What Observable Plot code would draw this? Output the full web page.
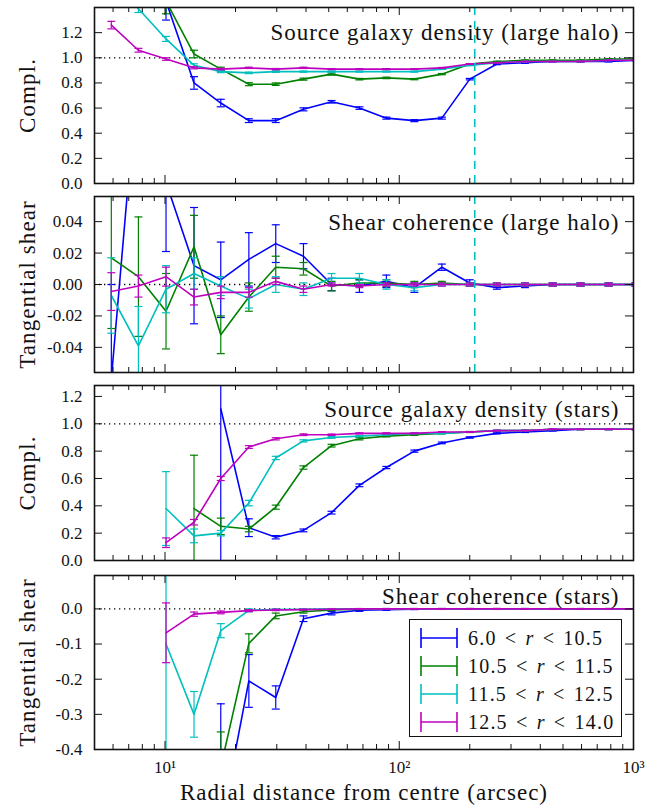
<!DOCTYPE html>
<html><head><meta charset="utf-8">
<script src="https://cdn.jsdelivr.net/npm/d3@7"></script>
<script src="https://cdn.jsdelivr.net/npm/@observablehq/plot@0.6"></script>
<style>
body{margin:0;background:#fff;}
#chart{position:relative;width:658px;height:811px;font-family:"Liberation Serif","DejaVu Serif",serif;color:#111;}
#chart svg{display:block;overflow:visible;}
#legend{position:absolute;left:409px;top:619px;width:211px;height:116px;border:1.6px solid #111;background:#fff;}
#legend .row{position:absolute;left:0;height:28px;display:flex;align-items:center;}
#legend .row svg{margin-left:10px;overflow:visible;}
#legend .row span{margin-left:10px;font-size:20px;letter-spacing:1.2px;word-spacing:2px;white-space:nowrap;}
</style></head><body><div id="chart"></div>
<script>
// ---- shared data ----
const radius = [5.9, 7.7, 10.1, 13.3, 17.3, 22.8, 29.7, 39.0, 51.4, 67.6, 88.1, 116, 152, 200, 261, 344, 452, 594, 783, 1021];
const seriesLabels = ["6.0 < r < 10.5", "10.5 < r < 11.5", "11.5 < r < 12.5", "12.5 < r < 14.0"];
const seriesColors = ["#0000ff", "#008000", "#00bfbf", "#bf00bf"];
const xMajor = [10, 100, 1000];
const xMajorLabels = ["10¹", "10²", "10³"];
const xMinor = [6, 7, 8, 9, 20, 30, 40, 50, 60, 70, 80, 90, 200, 300, 400, 500, 600, 700, 800, 900];
const xTitle = "Radial distance from centre (arcsec)";
const haloRadius = 210;

// ---- panel 1: source galaxy density (large halo) ----
const densHaloB = [1.9, 1.7, 1.45, 0.80, 0.64, 0.50, 0.50, 0.59, 0.65, 0.60, 0.52, 0.50, 0.52, 0.83, 0.95, 0.96, 0.97, 0.97, 0.97, 0.98];
const densHaloBErr = [0.2, 0.2, 0.15, 0.05, 0.03, 0.015, 0.015, 0.012, 0.01, 0.01, 0.008, 0.008, 0.008, 0.006, 0.005, 0.004, 0.003, 0.003, 0.003, 0.003];
const densHaloG = [1.9, 1.8, 1.45, 1.03, 0.91, 0.79, 0.79, 0.83, 0.87, 0.83, 0.84, 0.83, 0.87, 0.95, 0.97, 0.98, 0.98, 0.98, 0.99, 0.99];
const densHaloGErr = [0.2, 0.15, 0.1, 0.03, 0.015, 0.012, 0.01, 0.008, 0.008, 0.006, 0.006, 0.005, 0.005, 0.004, 0.003, 0.003, 0.003, 0.003, 0.003, 0.003];
const densHaloC = [1.6, 1.39, 1.15, 0.94, 0.89, 0.88, 0.89, 0.89, 0.89, 0.89, 0.89, 0.89, 0.91, 0.94, 0.96, 0.97, 0.97, 0.97, 0.98, 0.98];
const densHaloCErr = [0.05, 0.03, 0.02, 0.012, 0.008, 0.006, 0.006, 0.005, 0.005, 0.004, 0.004, 0.004, 0.003, 0.003, 0.003, 0.003, 0.003, 0.003, 0.003, 0.003];
const densHaloM = [1.26, 1.06, 0.99, 0.92, 0.91, 0.92, 0.91, 0.92, 0.91, 0.91, 0.91, 0.91, 0.92, 0.95, 0.96, 0.97, 0.97, 0.97, 0.98, 0.98];
const densHaloMErr = [0.03, 0.015, 0.01, 0.008, 0.006, 0.005, 0.005, 0.005, 0.004, 0.004, 0.004, 0.003, 0.003, 0.003, 0.003, 0.003, 0.003, 0.003, 0.003, 0.003];

// ---- panel 2: shear coherence (large halo) ----
const shearHaloB = [-0.06, 0.14, 0.065, 0.012, 0.003, 0.016, 0.026, 0.018, 0.0, -0.001, 0.002, -0.002, 0.011, 0.001, -0.002, -0.001, 0.0, 0.0, 0.0, 0.0];
const shearHaloBErr = [0.06, 0.06, 0.044, 0.037, 0.024, 0.017, 0.012, 0.008, 0.004, 0.004, 0.004, 0.003, 0.002, 0.002, 0.001, 0.001, 0.001, 0.001, 0.001, 0.001];
const shearHaloG = [0.017, 0.005, -0.017, 0.024, -0.032, -0.008, 0.011, 0.010, -0.001, 0.001, 0.001, 0.0, 0.001, 0.0, 0.0, 0.0, 0.0, 0.0, 0.0, 0.0];
const shearHaloGErr = [0.045, 0.038, 0.024, 0.02, 0.012, 0.009, 0.007, 0.004, 0.003, 0.002, 0.002, 0.002, 0.001, 0.001, 0.001, 0.001, 0.001, 0.001, 0.001, 0.001];
const shearHaloC = [-0.007, -0.039, -0.003, 0.007, -0.001, -0.009, 0.0, -0.003, 0.004, 0.004, 0.0, -0.002, 0.0, 0.0, 0.0, 0.0, 0.0, 0.0, 0.0, 0.0];
const shearHaloCErr = [0.024, 0.025, 0.015, 0.01, 0.006, 0.006, 0.005, 0.004, 0.003, 0.003, 0.003, 0.002, 0.001, 0.001, 0.001, 0.001, 0.001, 0.001, 0.001, 0.001];
const shearHaloM = [-0.0045, -0.001, 0.005, -0.008, -0.005, -0.005, 0.002, -0.003, 0.0, -0.001, 0.0, 0.0, 0.0, 0.0, 0.0, 0.0, 0.0, 0.0, 0.0, 0.0];
const shearHaloMErr = [0.012, 0.007, 0.006, 0.005, 0.004, 0.003, 0.002, 0.002, 0.001, 0.001, 0.001, 0.001, 0.001, 0.001, 0.001, 0.001, 0.001, 0.001, 0.001, 0.001];

// ---- panel 3: source galaxy density (stars) ----
const densStarsB = [null, null, null, null, 1.11, 0.24, 0.17, 0.22, 0.35, 0.55, 0.68, 0.80, 0.86, 0.90, 0.93, 0.94, 0.95, 0.96, 0.96, 0.96];
const densStarsBErr = [0, 0, 0, 0, 1.6, 0.065, 0.012, 0.01, 0.01, 0.01, 0.008, 0.008, 0.006, 0.005, 0.004, 0.004, 0.003, 0.003, 0.003, 0.003];
const densStarsG = [null, null, null, 0.38, 0.25, 0.23, 0.39, 0.68, 0.84, 0.89, 0.91, 0.92, 0.93, 0.94, 0.95, 0.95, 0.96, 0.96, 0.96, 0.96];
const densStarsGErr = [0, 0, 0, 0.39, 0.06, 0.02, 0.015, 0.012, 0.01, 0.008, 0.006, 0.005, 0.004, 0.004, 0.003, 0.003, 0.003, 0.003, 0.003, 0.003];
const densStarsC = [null, null, 0.38, 0.18, 0.20, 0.42, 0.75, 0.875, 0.90, 0.91, 0.92, 0.93, 0.93, 0.94, 0.95, 0.95, 0.96, 0.96, 0.96, 0.96];
const densStarsCErr = [0, 0, 0.27, 0.05, 0.02, 0.02, 0.012, 0.008, 0.006, 0.005, 0.004, 0.004, 0.003, 0.003, 0.003, 0.003, 0.003, 0.003, 0.003, 0.003];
const densStarsM = [null, null, 0.13, 0.28, 0.60, 0.83, 0.89, 0.92, 0.92, 0.93, 0.93, 0.93, 0.94, 0.94, 0.95, 0.95, 0.96, 0.96, 0.96, 0.96];
const densStarsMErr = [0, 0, 0.035, 0.02, 0.015, 0.01, 0.008, 0.006, 0.005, 0.004, 0.004, 0.003, 0.003, 0.003, 0.003, 0.003, 0.003, 0.003, 0.003, 0.003];

// ---- panel 4: shear coherence (stars) ----
const shearStarsB = [null, null, null, null, -0.62, -0.205, -0.252, -0.028, -0.012, -0.004, -0.002, -0.001, 0.0, 0.0, 0.0, 0.0, 0.0, 0.0, 0.0, 0.0];
const shearStarsBErr = [0, 0, 0, 0, 0.35, 0.075, 0.033, 0.008, 0.005, 0.003, 0.002, 0.001, 0.001, 0.001, 0.001, 0.001, 0.001, 0.001, 0.001, 0.001];
const shearStarsG = [null, null, null, null, -0.45, -0.098, -0.02, -0.008, -0.003, -0.001, 0.0, 0.0, 0.0, 0.0, 0.0, 0.0, 0.0, 0.0, 0.0, 0.0];
const shearStarsGErr = [0, 0, 0, 0, 0.1, 0.027, 0.008, 0.004, 0.002, 0.001, 0.001, 0.001, 0.001, 0.001, 0.001, 0.001, 0.001, 0.001, 0.001, 0.001];
const shearStarsC = [null, null, -0.10, -0.30, -0.062, -0.004, -0.002, -0.001, 0.0, 0.0, 0.0, 0.0, 0.0, 0.0, 0.0, 0.0, 0.0, 0.0, 0.0, 0.0];
const shearStarsCErr = [0, 0, 0.6, 0.065, 0.02, 0.004, 0.002, 0.001, 0.001, 0.001, 0.001, 0.001, 0.001, 0.001, 0.001, 0.001, 0.001, 0.001, 0.001, 0.001];
const shearStarsM = [null, null, -0.068, -0.015, -0.01, -0.005, -0.003, -0.002, -0.001, 0.0, 0.0, 0.0, 0.0, 0.0, 0.0, 0.0, 0.0, 0.0, 0.0, 0.0];
const shearStarsMErr = [0, 0, 0.085, 0.006, 0.004, 0.003, 0.002, 0.001, 0.001, 0.001, 0.001, 0.001, 0.001, 0.001, 0.001, 0.001, 0.001, 0.001, 0.001, 0.001];

const complTicks = [0, 0.2, 0.4, 0.6, 0.8, 1.0, 1.2];
const shearHaloTicks = [-0.04, -0.02, 0, 0.02, 0.04];
const shearStarsTicks = [-0.4, -0.3, -0.2, -0.1, 0];

// ---- drawing ----
const W = 658, ML = 94, MR = 25;
const FONT = "'Liberation Serif', 'DejaVu Serif', serif";
const capSymbol = {draw(ctx, size) { const r = Math.sqrt(size / Math.PI); ctx.moveTo(-r, 0); ctx.lineTo(r, 0); }};
const hy = s => s.replace("\u2212", "-");

function makePanel(cfg) {
  const innerH = cfg.height - cfg.mt - cfg.mb;
  const innerW = W - ML - MR;
  const marks = [Plot.ruleY([cfg.ref], {y: d => d, stroke: "#000", strokeWidth: 1.3, strokeDasharray: "1.3,3.7"})];
  cfg.series.forEach((vals, s) => {
    const rows = [];
    vals.forEach((v, i) => { if (v !== null) rows.push({x: radius[i], y: v, e: cfg.errors[s][i]}); });
    const col = seriesColors[s];
    marks.push(
      Plot.ruleX(rows, {x: "x", y1: d => d.y - d.e, y2: d => d.y + d.e, stroke: col, strokeWidth: 1.2, clip: true}),
      Plot.dot(rows, {x: "x", y: d => d.y + d.e, symbol: capSymbol, r: 4, stroke: col, fill: "none", strokeWidth: 1.2, clip: true}),
      Plot.dot(rows, {x: "x", y: d => d.y - d.e, symbol: capSymbol, r: 4, stroke: col, fill: "none", strokeWidth: 1.2, clip: true}),
      Plot.line(rows, {x: "x", y: "y", stroke: col, strokeWidth: 1.6, clip: true})
    );
  });
  if (cfg.vline) marks.push(Plot.ruleX([haloRadius], {x: d => d, stroke: "#00bfbf", strokeWidth: 1.6, strokeDasharray: "8,6"}));
  const tk = "#111";
  marks.push(
    Plot.tickX(xMajor, {x: d => d, insetTop: innerH - 8, stroke: tk}),
    Plot.tickX(xMajor, {x: d => d, insetBottom: innerH - 8, stroke: tk}),
    Plot.tickX(xMinor, {x: d => d, insetTop: innerH - 5, stroke: tk}),
    Plot.tickX(xMinor, {x: d => d, insetBottom: innerH - 5, stroke: tk}),
    Plot.tickY(cfg.yTicks, {y: d => d, insetRight: innerW - 8, stroke: tk}),
    Plot.tickY(cfg.yTicks, {y: d => d, insetLeft: innerW - 8, stroke: tk}),
    Plot.text(cfg.yTicks, {y: d => d, text: d => hy(d3.format(cfg.fmt)(d)), frameAnchor: "left", textAnchor: "end", lineAnchor: "middle", dx: -12, fontSize: 17}),
    Plot.text([cfg.title], {text: d => d, frameAnchor: "top-right", textAnchor: "end", lineAnchor: "middle", dx: -14, dy: cfg.titleDy, fontSize: 23}),
    Plot.text([cfg.ylabel], {text: d => d, frameAnchor: "left", rotate: -90, textAnchor: "middle", lineAnchor: "middle", dx: -67, fontSize: 23}),
    Plot.frame({stroke: "#111", strokeWidth: 1.6})
  );
  if (cfg.xAxis) marks.push(
    Plot.text(xMajor, {x: d => d, text: (d, i) => xMajorLabels[i], frameAnchor: "bottom", textAnchor: "middle", lineAnchor: "middle", dy: 18, fontSize: 17}),
    Plot.text([xTitle], {text: d => d, frameAnchor: "bottom", textAnchor: "middle", lineAnchor: "middle", dy: 43, fontSize: 23})
  );
  const svg = Plot.plot({
    width: W, height: cfg.height,
    marginLeft: ML, marginRight: MR, marginTop: cfg.mt, marginBottom: cfg.mb,
    x: {type: "log", domain: [5, 1000], axis: null},
    y: {domain: cfg.yDomain, axis: null},
    style: {fontFamily: FONT, color: "#111", overflow: "visible"},
    marks
  });
  // widen the long labels a little (the original font is wider than Liberation Serif)
  const spacing = new Map([[cfg.title, "1px"], [cfg.ylabel, "1.1px"], [xTitle, "1px"]]);
  svg.querySelectorAll("text").forEach(t => {
    if (spacing.has(t.textContent)) t.style.letterSpacing = spacing.get(t.textContent);
  });
  return svg;
}

const chart = document.getElementById("chart");
chart.append(makePanel({
  height: 189, mt: 7, mb: 6, yDomain: [0, 1.4], yTicks: complTicks, fmt: ".1f", ref: 1,
  title: "Source galaxy density (large halo)", titleDy: 25, ylabel: "Compl.", vline: true,
  series: [densHaloB, densHaloG, densHaloC, densHaloM], errors: [densHaloBErr, densHaloGErr, densHaloCErr, densHaloMErr]
}));
chart.append(makePanel({
  height: 189, mt: 7, mb: 6, yDomain: [-0.056, 0.056], yTicks: shearHaloTicks, fmt: ".2f", ref: 0,
  title: "Shear coherence (large halo)", titleDy: 26, ylabel: "Tangential shear", vline: true,
  series: [shearHaloB, shearHaloG, shearHaloC, shearHaloM], errors: [shearHaloBErr, shearHaloGErr, shearHaloCErr, shearHaloMErr]
}));
chart.append(makePanel({
  height: 190, mt: 7, mb: 8, yDomain: [0, 1.28], yTicks: complTicks, fmt: ".1f", ref: 1,
  title: "Source galaxy density (stars)", titleDy: 24, ylabel: "Compl.", vline: false,
  series: [densStarsB, densStarsG, densStarsC, densStarsM], errors: [densStarsBErr, densStarsGErr, densStarsCErr, densStarsMErr]
}));
chart.append(makePanel({
  height: 243, mt: 7, mb: 62, yDomain: [-0.4, 0.095], yTicks: shearStarsTicks, fmt: ".1f", ref: 0,
  title: "Shear coherence (stars)", titleDy: 21, ylabel: "Tangential shear", vline: false, xAxis: true,
  series: [shearStarsB, shearStarsG, shearStarsC, shearStarsM], errors: [shearStarsBErr, shearStarsGErr, shearStarsCErr, shearStarsMErr]
}));

// legend
const legend = document.createElement("div");
legend.id = "legend";
seriesLabels.forEach((lab, i) => {
  const row = document.createElement("div");
  row.className = "row";
  row.style.top = (4 + i * 28) + "px";
  const c = seriesColors[i];
  const parts = lab.split(" r ");
  row.innerHTML = `<svg width="38" height="22"><g stroke="${c}" stroke-width="1.6"><line x1="1" y1="11" x2="37" y2="11"/><line x1="1" y1="1" x2="1" y2="21"/><line x1="37" y1="1" x2="37" y2="21"/></g></svg><span>${parts[0].replace("<", "&lt;")} <i>r</i> ${parts[1].replace("<", "&lt;")}</span>`;
  legend.append(row);
});
chart.append(legend);
</script>
</body></html>
